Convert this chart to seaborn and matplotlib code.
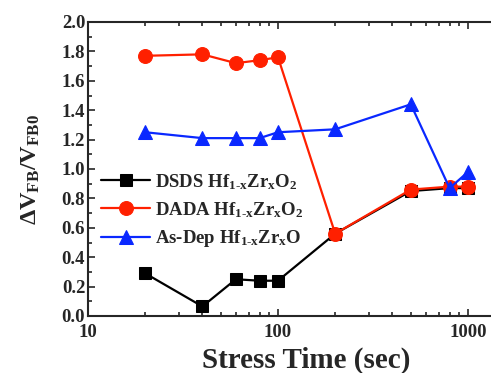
import numpy as np
import pandas as pd
import matplotlib
matplotlib.use('Agg')
import matplotlib.pyplot as plt
from matplotlib.ticker import MultipleLocator, LogLocator, FixedLocator, FixedFormatter, NullFormatter
import seaborn as sns

# Stress times (sec)
times = [20, 40, 60, 80, 100, 200, 500, 800, 1000]

# dVFB/VFB0 for each sample
dsds = [0.29, 0.065, 0.25, 0.24, 0.24, 0.56, 0.85, 0.87, 0.87]
dada = [1.77, 1.78, 1.72, 1.74, 1.76, 0.56, 0.86, 0.88, 0.88]
asdep = [1.25, 1.21, 1.21, 1.21, 1.25, 1.27, 1.44, 0.87, 0.98]

sub = r'$_{\mathrm{1}\text{-}\mathrm{x}}$'
labels = ['DSDS Hf' + sub + r'Zr$_{\mathrm{x}}$O$_{\mathrm{2}}$',
          'DADA Hf' + sub + r'Zr$_{\mathrm{x}}$O$_{\mathrm{2}}$',
          'As-Dep Hf' + sub + r'Zr$_{\mathrm{x}}$O']

sns.set_style('ticks')
plt.rcParams['font.family'] = ['Liberation Serif', 'DejaVu Serif']
plt.rcParams['font.weight'] = 'bold'
plt.rcParams['mathtext.fontset'] = 'custom'
plt.rcParams['mathtext.rm'] = 'Liberation Serif:bold'
plt.rcParams['mathtext.it'] = 'Liberation Serif:bold:italic'
plt.rcParams['mathtext.bf'] = 'Liberation Serif:bold'

fig = plt.figure(figsize=(4.91, 3.73), dpi=100)
# decade = 190 px; axes run past the right edge of the figure like the cropped original
ax = fig.add_axes([88 / 491, 1 - 316 / 373, 190 * np.log10(200) / 491, 294 / 373])

series = [(dsds, 'black', 's', 9), (dada, '#ff2000', 'o', 10), (asdep, '#0a28ff', '^', 10)]
for (vals, col, mk, ms), lab in zip(series, labels):
    df = pd.DataFrame({'t': times, 'v': vals})
    sns.lineplot(data=df, x='t', y='v', ax=ax, color=col, marker=mk, markersize=ms,
                 markeredgecolor=col, linewidth=1.6, sort=False, label=lab)

ax.set_xscale('log')
ax.set_xlim(10, 2000)
ax.set_ylim(0, 2.0)
ax.xaxis.set_major_locator(FixedLocator([10, 100, 1000]))
ax.xaxis.set_major_formatter(FixedFormatter(['10', '100', '1000']))
ax.xaxis.set_minor_locator(LogLocator(base=10, subs=np.arange(2, 10)))
ax.xaxis.set_minor_formatter(NullFormatter())
ax.yaxis.set_major_locator(MultipleLocator(0.2))
ax.yaxis.set_minor_locator(MultipleLocator(0.1))
ax.yaxis.set_major_formatter(matplotlib.ticker.FormatStrFormatter('%.1f'))

ax.spines['right'].set_visible(False)
for s in ax.spines.values():
    s.set_linewidth(1.5)
ax.tick_params(which='both', direction='in', top=True, right=False, width=1.2,
               labelsize=13.5)
ax.tick_params(axis='y', pad=2)
ax.tick_params(axis='x', pad=6)
ax.tick_params(which='major', length=5)
ax.tick_params(which='minor', length=3)
for lbl in ax.get_xticklabels() + ax.get_yticklabels():
    lbl.set_fontweight('bold')

ax.set_xlabel('Stress Time (sec)', fontsize=21, fontweight='bold', labelpad=4)
ax.set_ylabel(r'$\Delta$V$_{\mathrm{FB}}$/V$_{\mathrm{FB0}}$', fontsize=17.5, fontweight='bold', labelpad=14)

leg = ax.legend(loc='upper left', bbox_to_anchor=(0.0, 0.535), frameon=False, fontsize=13.5,
                handlelength=2.6, handletextpad=0.25, labelspacing=0.45, borderaxespad=0.3)
for t in leg.get_texts():
    t.set_fontweight('bold')

fig.savefig('out.png', dpi=100)
